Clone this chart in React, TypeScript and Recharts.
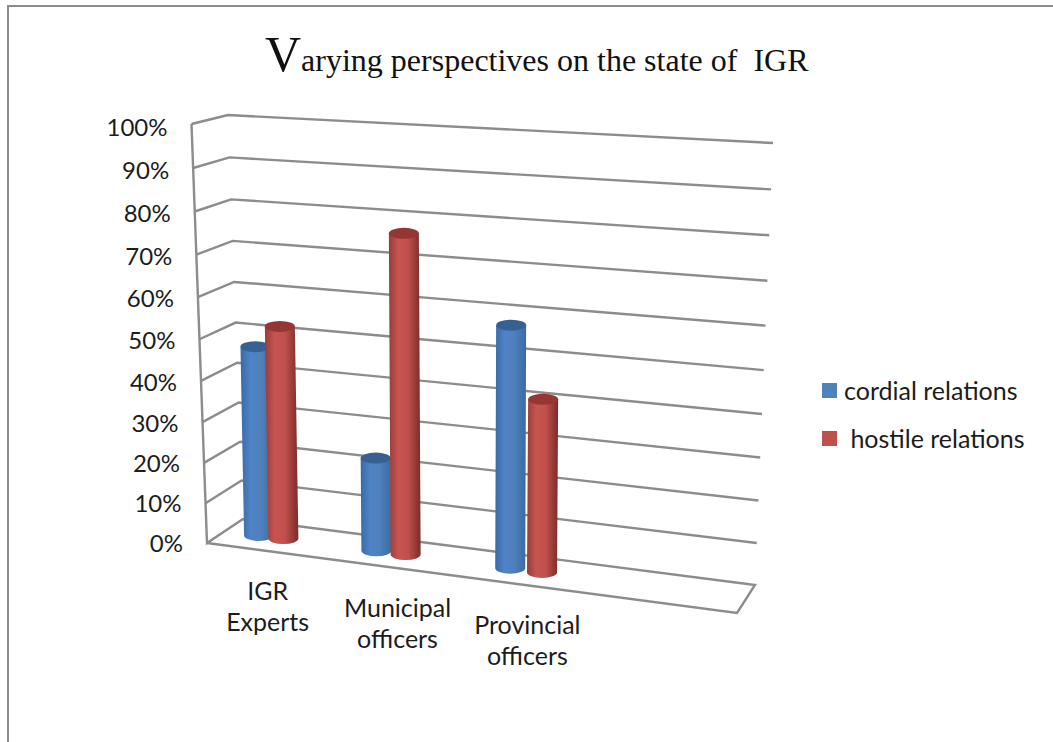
import { BarChart, Bar, XAxis, YAxis, CartesianGrid, Legend } from "recharts"

const categories = ["IGR Experts", "Municipal officers", "Provincial officers", ""]
const cordial = [47, 23, 58, null]
const hostile = [52.5, 77, 41.5, null]
const yTicks = [0, 10, 20, 30, 40, 50, 60, 70, 80, 90, 100]

const data = categories.map((name, i) => ({ name, cordial: cordial[i], hostile: hostile[i] }))

// plot rectangle of the flat chart, everything gets warped into the 3D box afterwards
const PLOT = { left: 207, top: 124, width: 530, height: 419 }
const GRID_COLOR = "#8c8c8c"
const TEXT_COLOR = "#1c1c1c"
const FONT = "Lato, 'Open Sans', sans-serif"

// corners of the box on screen: front/back, bottom/top, left/right
const BOX = {
  f0l: [207, 543], f1l: [191.5, 124], b0l: [243, 519], b1l: [228, 115],
  f0r: [737, 613], f1r: [754, 168], b0r: [755, 585], b1r: [773, 143],
}

const mix = (a: number[], b: number[], t: number) => [a[0] + (b[0] - a[0]) * t, a[1] + (b[1] - a[1]) * t]

// slight perspective: categories bunch up on the left, the top of the walls opens up
const warpU = (u: number) => Math.pow(u, 1.165)
const warpV = (v: number) => 0.945 * v + 0.055 * v * v

function project(u: number, v: number, depth: number) {
  const tv = warpV(v)
  const left = mix(mix(BOX.f0l, BOX.f1l, tv), mix(BOX.b0l, BOX.b1l, tv), depth)
  const right = mix(mix(BOX.f0r, BOX.f1r, tv), mix(BOX.b0r, BOX.b1r, tv), depth)
  return mix(left, right, u)
}

const toU = (x: number) => (x - PLOT.left) / PLOT.width
const toV = (y: number) => (PLOT.top + PLOT.height - y) / PLOT.height

function gridLine(props: any) {
  const v = toV(props.y1)
  const a = project(0, v, 0)
  const b = project(0, v, 1)
  const c = project(1, v, 1)
  const isFloor = Math.abs(v) < 0.001
  let points = [a, b, c]
  if (isFloor) points = [project(0, 1, 0), a, b, c, project(1, 0, 0), a]
  return (
    <polyline
      key={props.key ?? props.y1}
      points={points.map((p) => p.join(",")).join(" ")}
      fill="none"
      stroke={GRID_COLOR}
      strokeWidth={2.4}
      strokeLinejoin="miter"
    />
  )
}

function Cylinder(props: any) {
  const { x, y, width, height, gradient, capColor } = props
  if (!height || height <= 0) return null
  const uMid = warpU(toU(x + width / 2))
  const base = project(uMid, 0, 0.5)
  const rawTop = project(uMid, toV(y), 0.5)
  // bars lean less than the walls do
  const top = [base[0] + (rawTop[0] - base[0]) * 0.6, rawTop[1]]
  const rx = width * 0.5
  const ry = 5.5
  const d = [
    `M${top[0] - rx},${top[1]}`,
    `L${base[0] - rx},${base[1]}`,
    `A${rx},${ry} 0 0 0 ${base[0] + rx},${base[1]}`,
    `L${top[0] + rx},${top[1]}`,
    "Z",
  ].join(" ")
  return (
    <g>
      <path d={d} fill={`url(#${gradient})`} />
      <ellipse cx={top[0]} cy={top[1]} rx={rx} ry={ry} fill={capColor} />
    </g>
  )
}

function YTick(props: any) {
  const { y, payload } = props
  const v = toV(y)
  const p = project(0, v, 0)
  return (
    <text
      x={p[0] - 24}
      y={p[1] - 1 + 3 * v}
      textAnchor="end"
      dominantBaseline="central"
      fontSize={24}
      fontFamily={FONT}
      fill={TEXT_COLOR}
    >
      {payload.value}%
    </text>
  )
}

function XTick(props: any) {
  const { x, payload } = props
  if (!payload.value) return null
  const u = toU(x)
  const p = project(u * 0.98 - 0.008, 0, 0)
  const words = String(payload.value).split(" ")
  return (
    <text textAnchor="middle" fontSize={25} fontFamily={FONT} fill={TEXT_COLOR}>
      {words.map((w, i) => (
        <tspan key={w} x={p[0]} y={p[1] + 49 + i * 31}>
          {w}
        </tspan>
      ))}
    </text>
  )
}

function LegendBox(props: any) {
  const items = props.payload ?? []
  return (
    <div style={{ fontFamily: FONT, fontSize: 25, color: TEXT_COLOR, whiteSpace: "pre" }}>
      {items.map((item: any) => (
        <div key={item.value} style={{ display: "flex", alignItems: "center", height: 48 }}>
          <span style={{ width: 15, height: 15, background: item.color, display: "inline-block" }} />
          <span style={{ marginLeft: 7 }}>{item.value}</span>
        </div>
      ))}
    </div>
  )
}

function stops(edgeL: string, bright: string, mid: string, edgeR: string) {
  return (
    <>
      <stop offset="0%" stopColor={edgeL} />
      <stop offset="30%" stopColor={bright} />
      <stop offset="60%" stopColor={mid} />
      <stop offset="100%" stopColor={edgeR} />
    </>
  )
}

export default function App() {
  return (
    <div
      style={{
        position: "absolute",
        left: 0,
        top: 0,
        width: 1053,
        height: 742,
        background: "#fff",
        overflow: "hidden",
      }}
    >
      <div
        style={{
          position: "absolute",
          left: 7,
          top: 5,
          right: 0,
          bottom: 0,
          borderTop: `2px solid ${GRID_COLOR}`,
          borderLeft: `2px solid ${GRID_COLOR}`,
        }}
      />
      <BarChart
        width={1053}
        height={742}
        data={data}
        barSize={30}
        barGap={0}
        margin={{
          top: PLOT.top,
          left: PLOT.left - 1,
          right: 1053 - PLOT.left - PLOT.width,
          bottom: 742 - PLOT.top - PLOT.height - 1,
        }}
        style={{ position: "absolute" }}
      >
        <defs>
          <linearGradient id="blueBar" x1="0" y1="0" x2="1" y2="0">
            {stops("#376aa6", "#4f83c6", "#4f81bd", "#3a6aa3")}
          </linearGradient>
          <linearGradient id="redBar" x1="0" y1="0" x2="1" y2="0">
            {stops("#963c3a", "#c85451", "#c0504d", "#7a2c2a")}
          </linearGradient>
        </defs>
        <text x={265} y={71} fontFamily="'Liberation Serif', serif" fill="#111" style={{ whiteSpace: "pre" }}>
          <tspan fontSize={50}>V</tspan>
          <tspan fontSize={32}>arying perspectives on the state of  IGR</tspan>
        </text>
        <CartesianGrid vertical={false} horizontal={gridLine} />
        <XAxis dataKey="name" height={1} interval={0} axisLine={false} tickLine={false} tick={<XTick />} />
        <YAxis
          domain={[0, 100]}
          ticks={yTicks}
          width={1}
          axisLine={false}
          tickLine={false}
          tick={<YTick />}
        />
        <Legend
          layout="vertical"
          align="center"
          verticalAlign="middle"
          itemSorter="dataKey"
          content={<LegendBox />}
          wrapperStyle={{ left: 822, top: 366, width: 225, right: "auto", bottom: "auto" }}
        />
        <Bar
          dataKey="cordial"
          name="cordial relations"
          fill="#4f81bd"
          isAnimationActive={false}
          shape={<Cylinder gradient="blueBar" capColor="#376092" />}
        />
        <Bar
          dataKey="hostile"
          name=" hostile relations"
          fill="#c0504d"
          isAnimationActive={false}
          shape={<Cylinder gradient="redBar" capColor="#943634" />}
        />
      </BarChart>
    </div>
  )
}
